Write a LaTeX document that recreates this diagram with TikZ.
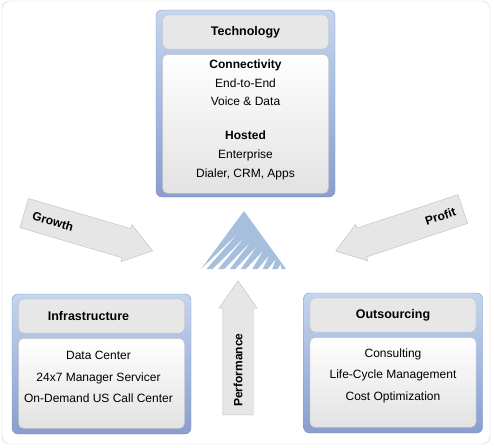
\documentclass[tikz,border=0pt]{standalone}
\usepackage{fontspec}
\setmainfont{Liberation Sans}
\usetikzlibrary{positioning, shapes.arrows, calc}
\definecolor{paneltop}{HTML}{C4D5EF}
\definecolor{panelbottom}{HTML}{8A9ECE}
\definecolor{panelline}{HTML}{7F95C5}
\definecolor{headfill}{HTML}{E7E7E7}
\definecolor{headline}{HTML}{BDBDBD}
\definecolor{bodybottom}{HTML}{E2E2E2}
\definecolor{arrowfill}{HTML}{E6E6E6}
\definecolor{arrowline}{HTML}{B3BFD3}
\definecolor{logoblue}{HTML}{A6BFDC}
\definecolor{frameline}{HTML}{CFCFCF}
\tikzset{
	panel/.style={draw=panelline, rounded corners=6pt, top color=paneltop, bottom color=panelbottom, minimum width=179pt, inner sep=0pt},
	head/.style={draw=headline, fill=headfill, rounded corners=5pt, minimum width=166pt, minimum height=34pt, inner sep=0pt, font=\bfseries\fontsize{12.5}{15}\selectfont},
	body/.style={draw=headline, rounded corners=5pt, top color=white, bottom color=bodybottom, minimum width=166pt, inner sep=0pt},
	bodytext/.style={align=center, inner sep=0pt},
	bigarrow/.style={single arrow, draw=arrowline, fill=arrowfill, minimum height=134pt, inner sep=0pt, inner ysep=15pt, single arrow head extend=4pt, single arrow tip angle=70, anchor=tail},
	arrowtext/.style={font=\bfseries\fontsize{12}{14}\selectfont, inner sep=0pt}}

\begin{document}
\begin{tikzpicture}[x=1pt, y=-1pt]
	\useasboundingbox (0,0) rectangle (494,447);
	\draw[frameline, rounded corners=8pt] (2,1) rectangle (490,444);
	
	\node[panel, minimum height=187pt] (tech) at (245.5,103.5) {};
	\node[head, below=5pt of tech.north] (techhead) {Technology};
	\node[body, minimum height=139pt, below=5pt of techhead] (techbody) {};
	\node[bodytext, font=\fontsize{12}{18.7}\selectfont, below=5.5pt of techbody.north] (techtext) {\textbf{Connectivity}\\End-to-End\\Voice \& Data\\[15pt]\textbf{Hosted}\\Enterprise\\Dialer, CRM, Apps};
	
	\node[panel, minimum height=140pt] (infra) at (101.5,364) {};
	\node[head, below=5pt of infra.north] (infrahead) {Infrastructure\hspace*{26pt}};
	\node[body, minimum height=90pt, below=5pt of infrahead] (infrabody) {};
	\node[bodytext, font=\fontsize{12}{21.3}\selectfont, below=13pt of infrabody.north, xshift=-3pt] (infratext) {Data Center\\24x7 Manager Servicer\\On-Demand US Call Center};
	
	\node[panel, minimum height=140pt] (outs) at (393,363) {};
	\node[head, below=5pt of outs.north] (outshead) {Outsourcing};
	\node[body, minimum height=90pt, below=5pt of outshead] (outsbody) {};
	\node[bodytext, font=\fontsize{12}{21.5}\selectfont, below=11.3pt of outsbody.north] (outstext) {Consulting\\Life-Cycle Management\\Cost Optimization};
	
	\fill[logoblue] (244,211) -- (201,269) -- (239.3,232) -- (206.5,269) -- (212.7,269) -- (245.4,236.5) -- (218.2,269) -- (224.3,269) -- (251.5,241) -- (229.8,269) -- (235.3,269) -- (257.6,245.5) -- (240.8,269) -- (246,269) -- (263.7,250) -- (252.2,269) -- (257.7,269) -- (269.8,254.5) -- (262.7,269) -- (267.7,269) -- (275.9,259) -- (272.2,269) -- (277.7,269) -- (280.5,264) -- (281.5,269) -- (286,269) -- cycle;
	
	\node[bigarrow, rotate=-16.4] (growth) at (24,213) {};
	\node[bigarrow, rotate=198.3] (profit) at (463,209) {};
	\node[bigarrow, rotate=90] (perf) at (238,415) {};
	\node[arrowtext, rotate=-16.4, anchor=west] (growthlbl) at ($(growth.tail)!9pt!(growth.tip)$) {Growth};
	\node[arrowtext, rotate=18.3, anchor=east] (profitlbl) at ($(profit.tail)!8pt!(profit.tip)$) {Profit};
	\node[arrowtext, rotate=90, anchor=west] (perflbl) at ($(perf.tail)!8pt!(perf.tip)$) {Performance};
\end{tikzpicture}
\end{document}
